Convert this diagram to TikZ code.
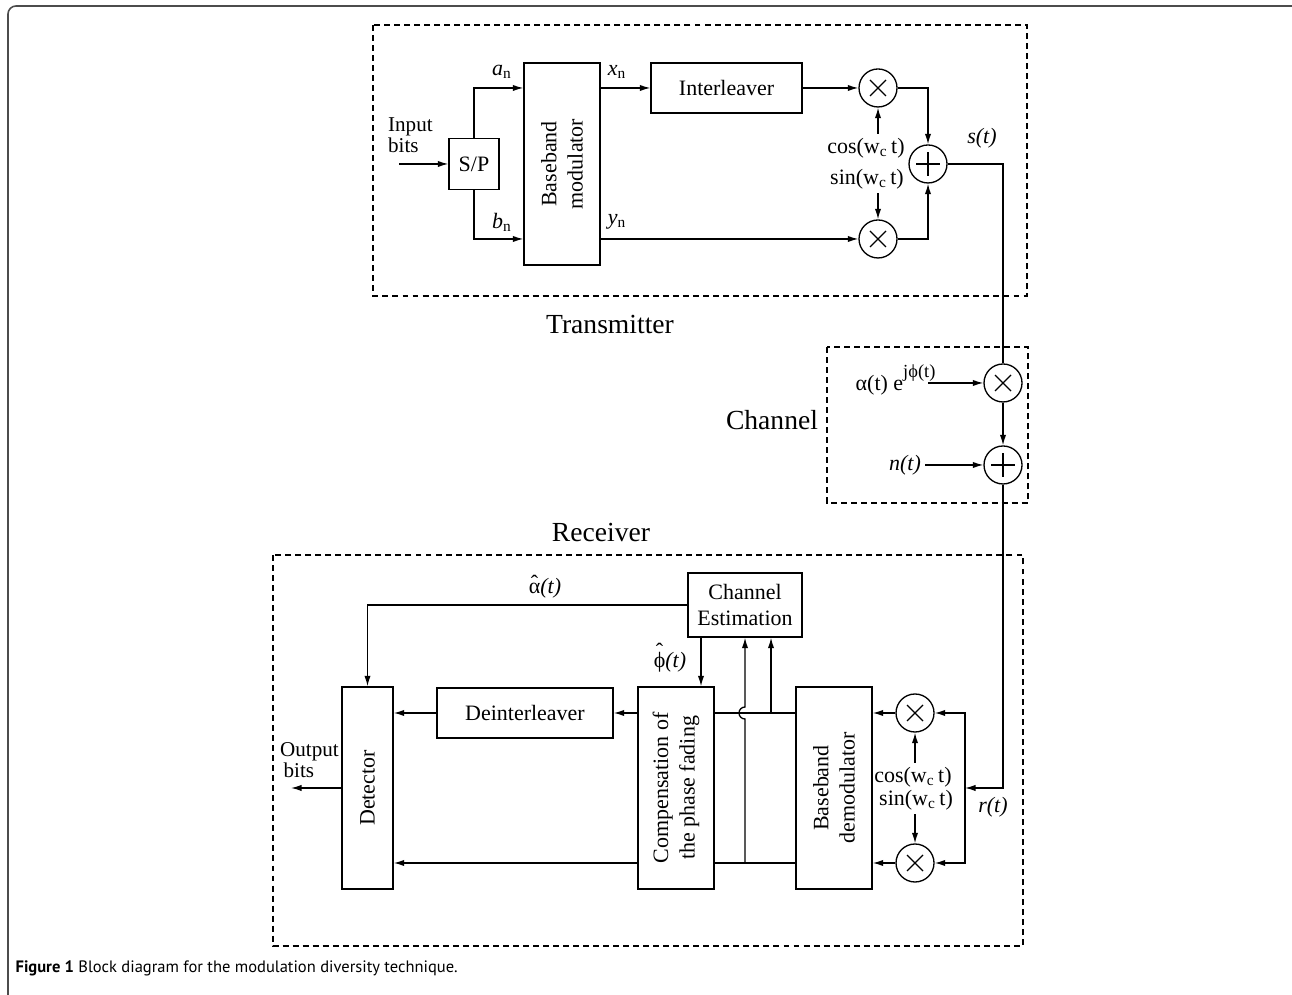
\documentclass[tikz,border=0pt]{standalone}
\usepackage{fontspec}
\setmainfont{Liberation Serif}
\newfontfamily\capfont{PT Sans}
\usetikzlibrary{arrows.meta}

\newcommand\blkfont{\fontsize{12.5}{15}\selectfont}
\newcommand\titfont{\fontsize{15.7}{19}\selectfont}
\newcommand\hatted[2]{\ooalign{#1\cr\hidewidth\raisebox{#2}{ˆ}\hidewidth\cr}}

\tikzset{
  every picture/.style={line width=0.75pt, >={Latex[length=6pt,width=3.6pt]}},
  blk/.style={draw, inner sep=0pt, font=\blkfont, align=center},
  vlab/.style={rotate=90, align=center, font=\blkfont},
  txt/.style={font=\blkfont, inner sep=2pt},
  tit/.style={font=\titfont},
  dashbox/.style={draw, line width=0.6pt, dash pattern=on 3.4pt off 2.3pt},
  mult/.style={circle, draw, minimum size=0.76cm, inner sep=0pt,
    path picture={\draw (path picture bounding box.center) +(-0.16,-0.16) -- +(0.16,0.16) +(-0.16,0.16) -- +(0.16,-0.16);}},
  summ/.style={circle, draw, minimum size=0.76cm, inner sep=0pt,
    path picture={\draw (path picture bounding box.center) +(-0.24,0) -- +(0.24,0) +(0,-0.24) -- +(0,0.24);}},
}

\begin{document}
\begin{tikzpicture}
    \useasboundingbox (0,0) rectangle (25.84,19.9);

    % frame and caption:
    \draw[gray!60!black, line width=0.9pt, rounded corners=0.16cm] (0.16,0) |- (25.9,19.78);
    \node[anchor=base west, inner sep=0pt, font=\capfont\fontsize{9.4}{11}\selectfont] (cap) at (0.3,0.44)
        {\textbf{Figure 1} Block diagram for the modulation diversity technique.};

    % Transmitter:
    \draw[dashbox] (7.46,19.4) rectangle (20.54,13.98);
    \node[tit] (ttx) at (12.2,13.4) {Transmitter};
    \node[txt, anchor=west, align=left, font=\fontsize{12}{9.8}\selectfont] (inbits) at (7.68,17.2) {Input\\bits};
    \coordinate (in) at (7.98,16.62);
    \node[blk, minimum width=1.0cm, minimum height=1.02cm] (sp) at (9.48,16.62) {S/P};
    \node[blk, minimum width=1.52cm, minimum height=4.04cm,
        label={[vlab]center:Baseband\\modulator}] (mod) at (11.24,16.62) {};
    \node[blk, minimum width=3.02cm, minimum height=1.0cm] (il) at (14.53,18.14) {Interleaver};
    \node[mult] (mula) at (17.56,18.14) {};
    \node[mult] (mulb) at (17.56,15.12) {};
    \node[summ] (add) at (18.56,16.62) {};
    \node[txt] (cos) at (17.32,16.94) {cos(w\textsubscript{c}\,t)};
    \node[txt] (sin) at (17.34,16.32) {sin(w\textsubscript{c}\,t)};
    \node[txt] (an) at (10.04,18.46) {\textit{a}\textsubscript{n}};
    \node[txt] (bn) at (10.04,15.46) {\textit{b}\textsubscript{n}};
    \node[txt] (xn) at (12.34,18.46) {\textit{x}\textsubscript{n}};
    \node[txt] (yn) at (12.34,15.46) {\textit{y}\textsubscript{n}};
    \node[txt] (st) at (19.64,17.14) {\textit{s(t)}};

    \draw[->] (in) -- (sp.west);
    \draw[->] (sp.north) |- (mod.west |- il.west);
    \draw[->] (sp.south) |- (mod.west |- mulb.west);
    \draw[->] (mod.east |- il.west) -- (il.west);
    \draw[->] (mod.east |- mulb.west) -- (mulb.west);
    \draw[->] (il.east) -- (mula.west);
    \draw[->] (mula.south |- cos.north) -- (mula.south);
    \draw[->] (mulb.north |- sin.south) -- (mulb.north);
    \draw[->] (mula.east) -| (add.north);
    \draw[->] (mulb.east) -| (add.south);

    % Channel:
    \draw[dashbox] (16.54,12.96) rectangle (20.56,9.84);
    \node[tit] (tch) at (15.44,11.5) {Channel};
    \node[mult] (cm) at (20.06,12.24) {};
    \node[summ] (ca) at (20.06,10.6) {};
    \node[txt, anchor=base west] (gain) at (17.03,12.08)
        {α(t) e\raisebox{7.5pt}{\fontsize{10.5}{12}\selectfont jϕ(t)}};
    \coordinate (gin) at (18.56,12.24);
    \node[txt] (nt) at (18.1,10.6) {\textit{n(t)}};

    \draw (add.east) -| (cm.north);
    \draw[->] (gin) -- (cm.west);
    \draw[->] (cm.south) -- (ca.north);
    \draw[->] (nt.east) -- (ca.west);

    % Receiver:
    \draw[dashbox] (5.46,8.8) rectangle (20.46,0.98);
    \node[tit] (trx) at (12.02,9.24) {Receiver};
    \node[blk, minimum width=2.28cm, minimum height=1.28cm] (ce) at (14.9,7.8) {Channel\\Estimation};
    \node[blk, minimum width=1.02cm, minimum height=4.04cm,
        label={[vlab]center:Detector}] (det) at (7.35,4.14) {};
    \node[blk, minimum width=3.52cm, minimum height=1.0cm] (deint) at (10.5,5.64) {Deinterleaver};
    \node[blk, minimum width=1.52cm, minimum height=4.04cm,
        label={[vlab]center:Compensation of\\the phase fading}] (comp) at (13.52,4.14) {};
    \node[blk, minimum width=1.52cm, minimum height=4.04cm,
        label={[vlab]center:Baseband\\demodulator}] (demod) at (16.68,4.14) {};
    \node[mult] (rmula) at (18.3,5.64) {};
    \node[mult] (rmulb) at (18.3,2.64) {};
    \node[txt] (rcos) at (18.26,4.36) {cos(w\textsubscript{c}\,t)};
    \node[txt] (rsin) at (18.32,3.9) {sin(w\textsubscript{c}\,t)};
    \coordinate (rj) at (19.3,4.14);
    \node[txt] (rt) at (19.86,3.76) {\textit{r(t)}};
    \coordinate (out) at (5.82,4.14);
    \node[txt, anchor=west, align=left, font=\fontsize{12}{9.8}\selectfont] (outbits) at (5.52,4.7) {Output\\\,bits};
    \node[txt] (ahat) at (10.9,8.14) {\hatted{α}{0.12em}\textit{(t)}};
    \node[txt] (phat) at (13.4,6.66) {\hatted{ϕ}{0.42em}\textit{(t)}};

    \draw[->] (ca.south) |- (rj);
    \draw[->] (rj) |- (rmula.east);
    \draw[->] (rj) |- (rmulb.east);
    \draw[->] (rmula.south |- rcos.north) -- (rmula.south);
    \draw[->] (rmulb.north |- rsin.south) -- (rmulb.north);
    \draw[->] (rmula.west) -- (demod.east |- rmula.west);
    \draw[->] (rmulb.west) -- (demod.east |- rmulb.west);
    \draw (demod.west |- rmula) -- (comp.east |- rmula);
    \draw (demod.west |- rmulb) -- (comp.east |- rmulb);
    \draw[->] (ce.south |- rmulb) -- ([yshift=-0.12cm]ce.south |- rmula)
        arc[start angle=270, end angle=90, radius=0.12cm] -- (ce.south);
    \draw[->] ([xshift=0.52cm]ce.south |- rmula) -- ([xshift=0.52cm]ce.south);
    \draw[->] ([xshift=-0.88cm]ce.south) -- ([xshift=-0.88cm]ce.south |- comp.north);
    \draw[->] (ce.west) -| (det.north);
    \draw[->] (comp.west |- deint.east) -- (deint.east);
    \draw[->] (deint.west) -- (det.east |- deint.west);
    \draw[->] (comp.west |- rmulb) -- (det.east |- rmulb);
    \draw[->] (det.west) -- (out);
\end{tikzpicture}
\end{document}
